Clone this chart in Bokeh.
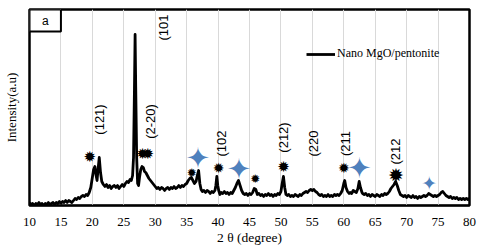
import math
from bokeh.plotting import figure
from bokeh.models import (Range1d, FixedTicker, Legend, LegendItem, BoxAnnotation, Label)
from bokeh.core.properties import value
from bokeh.embed import file_html
from bokeh.resources import INLINE

# ---------------- data ----------------
two_theta = [
    10.0, 10.25, 10.5, 10.75, 11.0, 11.25, 11.5, 11.75, 12.0, 12.25, 12.5, 12.75, 13.0, 13.25, 13.5, 13.75,
    14.0, 14.25, 14.5, 14.75, 15.0, 15.25, 15.5, 15.75, 16.0, 16.25, 16.5, 16.75, 17.0, 17.25, 17.5, 17.75,
    18.0, 18.25, 18.5, 18.75, 19.0, 19.25, 19.5, 19.75, 20.0, 20.2, 20.4, 20.6, 20.75, 20.9, 21.1, 21.3,
    21.5, 21.75, 22.0, 22.25, 22.5, 22.75, 23.0, 23.25, 23.5, 23.75, 24.0, 24.25, 24.5, 24.75, 25.0, 25.25,
    25.5, 25.75, 26.0, 26.2, 26.4, 26.55, 26.7, 26.8, 26.9, 27.05, 27.2, 27.35, 27.5, 27.7, 27.9, 28.1,
    28.3, 28.5, 28.75, 29.0, 29.25, 29.5, 29.75, 30.0, 30.25, 30.5, 30.75, 31.0, 31.25, 31.5, 31.75, 32.0,
    32.25, 32.5, 32.75, 33.0, 33.25, 33.5, 33.75, 34.0, 34.25, 34.5, 34.75, 35.0, 35.25, 35.5, 35.75, 36.0,
    36.25, 36.5, 36.7, 36.9, 37.1, 37.3, 37.5, 37.75, 38.0, 38.25, 38.5, 38.75, 39.0, 39.25, 39.5, 39.65,
    39.8, 39.95, 40.1, 40.3, 40.5, 40.75, 41.0, 41.25, 41.5, 41.75, 42.0, 42.25, 42.5, 42.75, 43.0, 43.25,
    43.5, 43.75, 44.0, 44.25, 44.5, 44.75, 45.0, 45.25, 45.5, 45.75, 46.0, 46.25, 46.5, 46.75, 47.0, 47.25,
    47.5, 47.75, 48.0, 48.25, 48.5, 48.75, 49.0, 49.25, 49.5, 49.75, 50.0, 50.2, 50.4, 50.6, 50.8, 51.0,
    51.25, 51.5, 51.75, 52.0, 52.25, 52.5, 52.75, 53.0, 53.25, 53.5, 53.75, 54.0, 54.25, 54.5, 54.75, 55.0,
    55.25, 55.5, 55.75, 56.0, 56.25, 56.5, 56.75, 57.0, 57.25, 57.5, 57.75, 58.0, 58.25, 58.5, 58.75, 59.0,
    59.25, 59.5, 59.75, 60.0, 60.15, 60.35, 60.6, 60.85, 61.0, 61.25, 61.5, 61.75, 62.0, 62.25, 62.45, 62.65,
    62.9, 63.0, 63.25, 63.5, 63.75, 64.0, 64.25, 64.5, 64.75, 65.0, 65.25, 65.5, 65.75, 66.0, 66.25, 66.5,
    66.75, 67.0, 67.25, 67.5, 67.75, 68.0, 68.25, 68.5, 68.75, 69.0, 69.25, 69.5, 69.75, 70.0, 70.25, 70.5,
    70.75, 71.0, 71.25, 71.5, 71.75, 72.0, 72.25, 72.5, 72.75, 73.0, 73.25, 73.5, 73.75, 74.0, 74.25, 74.5,
    74.75, 75.0, 75.25, 75.5, 75.75, 76.0, 76.25, 76.5, 76.75, 77.0, 77.25, 77.5, 77.75, 78.0, 78.25, 78.5,
    78.75, 79.0, 79.25, 79.5, 79.75, 80.0,
]
intensity = [
    5, 3, 4, 2, 4, 3, 5, 3, 4, 2, 4, 3, 5, 3, 4, 5,
    3, 5, 4, 6, 4, 6, 5, 7, 5, 7, 6, 5, 7, 9, 8, 10,
    9, 11, 12, 11, 13, 12, 15, 20, 30, 38, 41, 32, 27, 38, 50, 35,
    26, 23, 21, 23, 20, 22, 19, 21, 22, 20, 22, 19, 21, 23, 21, 24,
    26, 25, 28, 27, 32, 50, 120, 173, 120, 50, 24, 22, 30, 38, 41, 40,
    36, 35, 32, 29, 27, 25, 23, 21, 19, 20, 18, 20, 19, 17, 19, 20,
    18, 20, 19, 21, 19, 20, 22, 20, 22, 21, 23, 24, 27, 29, 30, 27,
    24, 26, 32, 37, 24, 18, 16, 17, 15, 17, 16, 14, 16, 15, 17, 22,
    31, 22, 17, 13, 15, 14, 16, 14, 15, 13, 15, 14, 17, 20, 24, 27,
    22, 17, 14, 13, 14, 12, 14, 13, 15, 19, 18, 13, 14, 12, 13, 11,
    13, 12, 14, 12, 13, 11, 13, 12, 14, 13, 16, 24, 31, 20, 13, 12,
    13, 11, 12, 11, 13, 12, 11, 13, 12, 14, 15, 16, 15, 17, 18, 17,
    18, 16, 15, 13, 12, 13, 11, 12, 11, 13, 11, 12, 11, 13, 12, 13,
    12, 14, 17, 24, 27, 20, 16, 14, 15, 14, 17, 16, 15, 19, 26, 20,
    15, 14, 13, 14, 12, 13, 11, 13, 12, 11, 13, 12, 11, 13, 12, 14,
    13, 14, 16, 19, 21, 23, 26, 22, 17, 13, 12, 11, 12, 10, 12, 11,
    10, 12, 10, 11, 9, 11, 10, 11, 12, 11, 12, 14, 13, 12, 11, 12,
    11, 12, 13, 15, 16, 14, 12, 11, 10, 11, 9, 10, 9, 10, 8, 9,
    8, 9, 8, 9, 8, 9,
]

# peak markers (black bursts) and blue stars
burst_x = [19.6, 28.0, 28.8, 35.8, 40.1, 45.9, 50.4, 60.0, 68.3]
burst_y = [51, 54, 54, 35, 40, 29, 41, 40, 33]
star_x = [36.8, 43.3, 62.5, 73.6]
star_y = [50, 39, 40, 25]

# hkl labels
hkl_text = ["(121)", "(2-20)", "(101", "(102", "(212)", "(220", "(211", "(212"]
hkl_x = [21.2, 29.2, 31.3, 40.5, 50.45, 55.2, 60.3, 68.2]
hkl_y = [88, 86, 180, 64, 70, 64, 64, 56]

x_ticks = [10, 15, 20, 25, 30, 35, 40, 45, 50, 55, 60, 65, 70, 75, 80]
series_name = "Nano MgO/pentonite"

# ---------------- styles ----------------
burst_sizes = ["15px", "15px", "15px", "12px", "14px", "12px", "15px", "14px", "19px"]
star_sizes = ["29px", "29px", "29px", "19px"]
BLUE = "#4f81bd"

p = figure(width=480, height=248, output_backend="svg", toolbar_location=None,
           x_range=Range1d(10, 80), y_range=Range1d(2, 198),
           min_border_left=26, min_border_right=11, min_border_top=9, min_border_bottom=43)

p.background_fill_color = "white"
p.border_fill_color = "white"
p.outline_line_color = "black"
p.outline_line_width = 2.5

# x axis
p.xaxis.ticker = FixedTicker(ticks=x_ticks)
p.xaxis.major_tick_line_color = None
p.xaxis.minor_tick_line_color = None
p.xaxis.major_tick_out = 0
p.xaxis.minor_tick_out = 0
p.xaxis.axis_line_color = "black"
p.xaxis.axis_line_width = 1.5
p.xaxis.major_label_text_font = "Liberation Serif"
p.xaxis.major_label_text_font_size = "13px"
p.xaxis.major_label_text_color = "black"
p.xaxis.major_label_standoff = 12
p.xaxis.axis_label = "2 θ (degree)"
p.xaxis.axis_label_text_font = "Liberation Serif"
p.xaxis.axis_label_text_font_size = "13.5px"
p.xaxis.axis_label_text_font_style = "normal"
p.xaxis.axis_label_text_color = "black"
p.xaxis.axis_label_standoff = 1

# y axis (no ticks, only the title)
p.yaxis.ticker = FixedTicker(ticks=[])
p.yaxis.major_tick_line_color = None
p.yaxis.minor_tick_line_color = None
p.yaxis.major_tick_out = 0
p.yaxis.minor_tick_out = 0
p.yaxis.axis_line_color = None
p.yaxis.major_label_standoff = 0
p.yaxis.axis_label = "Intensity(a.u)"
p.yaxis.axis_label_text_font = "Liberation Serif"
p.yaxis.axis_label_text_font_size = "13px"
p.yaxis.axis_label_text_font_style = "normal"
p.yaxis.axis_label_text_color = "black"
p.yaxis.axis_label_standoff = 11

p.xgrid.grid_line_color = "#d9d9d9"
p.xgrid.grid_line_width = 1
p.ygrid.grid_line_color = None

# box "a"
p.add_layout(BoxAnnotation(left=10, right=15, bottom=176, top=198,
                           fill_color="white", fill_alpha=1.0,
                           line_color="black", line_width=2, line_alpha=1.0))
p.add_layout(Label(x=12.5, y=187, text="a", text_font="Liberation Sans",
                   text_font_size="12px", text_align="center", text_baseline="middle",
                   text_color="black"))

# curve
line = p.line(two_theta, intensity, line_color="black", line_width=2.8, line_join="round")

# black bursts
p.text(x=burst_x, y=burst_y, text=["\u2739"] * len(burst_x),
       text_font=value("DejaVu Sans"), text_font_size=burst_sizes,
       text_align="center", text_baseline="middle", text_color="black")

# blue stars
p.text(x=star_x, y=star_y, text=["\u2726"] * len(star_x),
       text_font=value("DejaVu Sans"), text_font_size=star_sizes,
       text_align="center", text_baseline="middle", text_color=BLUE)

# hkl labels
p.text(x=hkl_x, y=hkl_y, text=hkl_text, angle=math.pi / 2,
       text_font=value("Liberation Sans"), text_font_size="13px",
       text_align="center", text_baseline="middle", text_color="black")

legend = Legend(items=[LegendItem(label=series_name, renderers=[line])],
                location=(277, 144), padding=0, margin=0, spacing=0,
                glyph_width=29, glyph_height=14, label_standoff=2,
                label_text_font="Liberation Serif", label_text_font_size="12px",
                label_text_color="black", border_line_color=None,
                background_fill_alpha=0)
p.add_layout(legend)

open("out.html", "w").write(file_html(p, INLINE))
